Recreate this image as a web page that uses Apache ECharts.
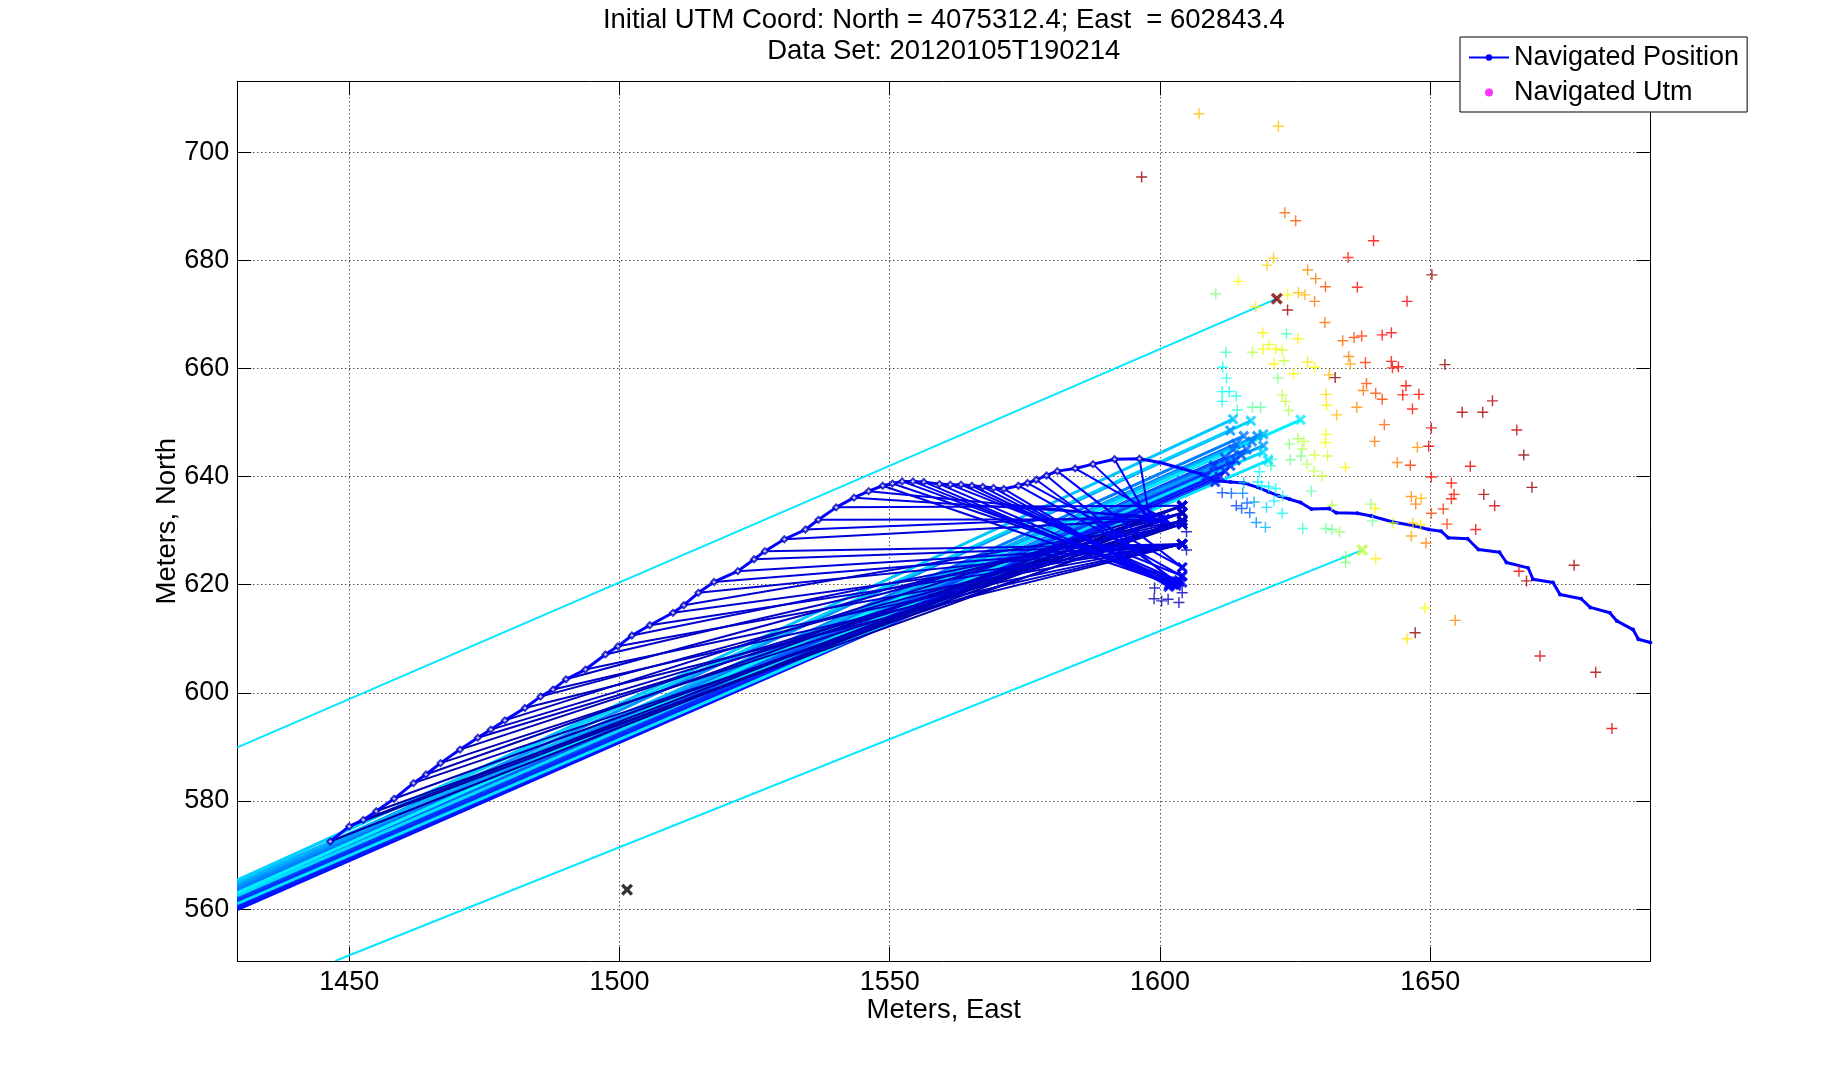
<!DOCTYPE html>
<html>
<head>
<meta charset="utf-8">
<script src="https://cdn.jsdelivr.net/npm/echarts@6/dist/echarts.min.js"></script>
<style>html,body{margin:0;padding:0;background:#fff}#c{width:1824px;height:1080px}</style>
</head>
<body>
<div id="c"></div>
<script>
// ---------------- data (meters East / North) ----------------
const titleLines = ['Initial UTM Coord: North = 4075312.4; East  = 602843.4', 'Data Set: 20120105T190214'];
const xTicks = [1450, 1500, 1550, 1600, 1650];
const yTicks = [560, 580, 600, 620, 640, 660, 680, 700];
const xRange = [1429.3, 1690.7];
const yRange = [550.4, 713.1];

// Navigated Position track [east, north]
const navTrack = [
  [1446.5,572.5],[1450,575.3],[1452.6,576.5],[1455,578.1],[1458.3,580.4],[1461.9,583.3],[1464.2,584.9],
  [1466.9,587],[1470.5,589.5],[1473.8,591.7],[1476.2,593.2],[1478.8,594.9],[1482.5,597.2],[1485.4,599.3],
  [1487.7,600.6],[1490.1,602.5],[1493.7,604.3],[1497.4,607.1],[1499.7,608.6],[1502.3,610.6],[1505.6,612.5],
  [1509.9,614.8],[1511.9,616.2],[1514.6,618.5],[1517.5,620.5],[1521.9,622.5],[1524.9,624.7],[1526.9,626.2],
  [1530.5,628.4],[1534.4,630.2],[1536.8,632],[1540.1,634.3],[1543.4,636.1],[1546.1,637.3],[1548.7,638.3],
  [1550.5,638.7],[1552.3,639.1],[1554.3,639.1],[1556.3,639],[1559.2,638.6],[1561.2,638.5],[1563.2,638.5],
  [1565.2,638.3],[1567.2,638.1],[1569.2,637.9],[1571.1,637.7],[1573.8,638.3],[1575.5,638.8],[1577.1,639.4],
  [1579,640.2],[1581,641],[1584.3,641.5],[1587.6,642.3],[1591.6,643.2],[1596.2,643.3],[1600,642.6],
  [1604,641.5],[1607.5,640.5],[1610.2,639.2],[1613,639],[1615.5,638.8],[1618.1,638],[1620,637.2],
  [1622,636.4],[1624,635.8],[1626,635.2],[1628,634],[1631.3,634.1],[1632.6,633.3],[1636.5,633.2],
  [1639.1,632.7],[1643.1,631.6],[1647,630.9],[1649.7,630.2],[1652,629.9],[1653.3,628.7],[1656.9,628.5],
  [1658.9,626.5],[1662.8,626],[1664.1,624.1],[1668.1,623.1],[1669,621],[1672.7,620.4],[1674,618.2],
  [1677.9,617.4],[1679.6,615.8],[1683.2,614.8],[1684.5,613.3],[1687.5,611.7],[1688.5,609.9],[1690.7,609.3]
];

// early fix lines: [startE, startN, endE, endN, timeFraction]
const fixLinesEarly = [
  [1446.5,572.5,1604.1,634.6,.04],[1450,575.3,1604.1,633.3,.04],[1452.6,576.5,1604.1,634.6,.04],
  [1455,578.1,1604.1,631.8,.04],[1458.3,580.4,1604.1,633.3,.05],[1461.9,583.3,1604.1,631.2,.05],
  [1464.2,584.9,1604.1,634.6,.05],[1466.9,587,1604.1,631.8,.05],[1470.5,589.5,1604.1,633.3,.05],
  [1473.8,591.7,1604.1,631.2,.06],[1476.2,593.2,1604.1,631.8,.06],[1478.8,594.9,1604.1,634.6,.06],
  [1482.5,597.2,1604.1,627.5,.06],[1485.4,599.3,1604.1,631.2,.06],[1487.7,600.6,1604.1,627.5,.07],
  [1490.1,602.5,1604.1,633.3,.07],[1493.7,604.3,1604.1,627.5,.07],[1497.4,607.1,1604.1,631.8,.07],
  [1499.7,608.6,1604.1,627.5,.07],[1502.3,610.6,1604.1,631.2,.08],[1505.6,612.5,1604.1,627.5,.08],
  [1509.9,614.8,1604.1,627.5,.08],[1511.9,616.2,1604.1,631.8,.08],[1514.6,618.5,1604.1,627.5,.08],
  [1517.5,620.5,1604.1,627.5,.09],[1521.9,622.5,1604.1,627.5,.09],[1524.9,624.7,1604.1,627.5,.09],
  [1526.9,626.2,1604.1,627.5,.09],[1530.5,628.4,1600.9,632.1,.09],[1534.4,630.2,1597.6,632.7,.10],
  [1536.8,632,1600.9,632.1,.10],[1540.1,634.3,1604.1,634.6,.10],[1543.4,636.1,1597.6,632.7,.10],
  [1546.1,637.3,1600.2,632.1,.10],[1548.7,638.3,1602.5,620.0,.10],[1550.5,638.7,1603.5,620.8,.10],
  [1552.3,639.1,1603.5,620.4,.11],[1554.3,639.1,1602.0,620.3,.11],[1556.3,639,1601.6,620.0,.11],
  [1559.2,638.6,1603.0,619.8,.11],[1561.2,638.5,1604.1,621.6,.11],[1563.2,638.5,1604.1,620.4,.11],
  [1565.2,638.3,1603.0,620.2,.11],[1567.2,638.1,1602.5,620.2,.11],[1569.2,637.9,1601.8,619.9,.12],
  [1571.1,637.7,1601.6,619.6,.12],[1573.8,638.3,1604.1,621.6,.12],[1575.5,638.8,1604.1,623.2,.12],
  [1577.1,639.4,1603.0,620.6,.12],[1579,640.2,1602.5,620.6,.12],[1581,641,1604.1,623.2,.12],
  [1584.3,641.5,1600.9,632.1,.12],[1587.6,642.3,1598.5,632.0,.12],[1591.6,643.2,1597.6,632.7,.12],
  [1596.2,643.3,1598.0,632.4,.12]
];

// later fix lines: [startE, startN, endE, endN, timeFraction]
const fixLinesLate = [
  [1429.3,559.9,1610.2,639.0,.14],[1429.3,560.3,1611.0,640.0,.15],[1429.3,560.6,1612.0,641.0,.15],
  [1429.3,560.9,1608.5,640.0,.16],[1429.3,561.2,1613.0,642.0,.17],[1429.3,561.5,1610.0,642.0,.17],
  [1429.3,561.8,1614.0,643.0,.18],[1429.3,562.0,1612.0,643.5,.19],[1429.3,562.3,1615.0,644.0,.20],
  [1429.3,562.6,1613.5,645.0,.21],[1429.3,562.9,1616.0,645.0,.22],[1429.3,563.2,1614.0,646.0,.23],
  [1429.3,563.5,1617.0,646.5,.24],[1429.3,563.8,1615.5,647.5,.25],[1429.3,564.1,1618.0,647.5,.26],
  [1429.3,564.4,1613.0,648.5,.27],[1429.3,564.6,1619.1,645.7,.28],[1429.3,564.9,1619.1,647.8,.30],
  [1429.3,565.2,1613.5,650.6,.32],[1429.3,565.4,1616.8,650.3,.33],[1429.3,562.5,1619.0,644.5,.34],
  [1429.3,561.0,1620.0,643.0,.35],[1429.3,563.0,1626.0,650.5,.36]
];

// outlier lines: [startE, startN, endE, endN, timeFraction]
const outlierLines = [[1429.3,589.9,1621.6,672.9,.35],[1447.4,550.4,1637.4,626.4,.35]];
// outlier end markers: [east, north, timeFraction]
const outlierMarks = [[1621.6,672.9,1.0],[1637.4,626.4,.56]];
const originMark = [[1501.4,563.6]];

// Navigated Utm '+' samples: [east, north, timeFraction]
const utmFixes = [
  [1607.2,707.1,.69],[1621.9,704.8,.68],[1596.6,695.4,.98],[1623.1,688.8,.77],[1625.1,687.3,.79],
  [1639.5,683.6,.88],[1634.8,680.5,.85],[1621.0,680.4,.68],[1619.8,679.1,.67],[1627.3,678.2,.74],
  [1628.8,676.6,.76],[1650.3,677.3,.97],[1614.5,676.1,.63],[1630.6,675.1,.80],[1636.5,675.0,.86],
  [1610.3,673.8,.50],[1623.6,673.6,.63],[1625.6,674.0,.69],[1626.8,673.6,.70],[1628.6,672.4,.76],
  [1645.7,672.4,.88],[1617.7,671.4,.64],[1623.6,670.8,.97],[1630.5,668.5,.77],[1619.0,666.6,.64],
  [1623.4,666.4,.45],[1625.5,665.5,.64],[1633.8,665.1,.77],[1635.9,665.7,.81],[1637.3,666.0,.82],
  [1641.1,666.2,.87],[1642.8,666.6,.88],[1612.2,663.0,.44],[1617.1,663.0,.56],[1619.1,663.6,.62],
  [1620.1,664.4,.60],[1621.4,663.6,.63],[1622.6,663.4,.58],[1621.1,660.8,.64],[1622.9,661.4,.57],
  [1627.3,661.2,.65],[1628.6,660.2,.62],[1634.9,662.2,.75],[1635.2,660.8,.71],[1638.0,661.1,.82],
  [1642.8,661.3,.87],[1643.0,660.1,.86],[1644.1,660.3,.88],[1652.7,660.7,.98],[1611.6,660.2,.38],
  [1612.3,658.2,.40],[1621.8,658.2,.50],[1624.7,659.0,.63],[1631.3,658.8,.70],[1632.4,658.3,.98],
  [1638.2,657.2,.80],[1637.6,655.9,.76],[1639.9,655.4,.80],[1641.1,654.3,.82],[1645.5,656.8,.88],
  [1644.9,655.1,.88],[1647.9,655.2,.88],[1661.5,654.0,.96],[1611.5,655.7,.39],[1612.8,655.7,.38],
  [1614.1,654.9,.40],[1611.5,653.9,.38],[1614.3,652.3,.42],[1617.1,652.8,.46],[1618.6,652.8,.47],
  [1622.6,655.1,.55],[1623.2,653.9,.57],[1623.8,652.2,.55],[1630.7,655.2,.66],[1630.8,653.2,.64],
  [1632.7,651.4,.69],[1636.4,652.8,.74],[1646.7,652.5,.86],[1655.9,651.9,.96],[1659.7,651.9,.96],
  [1666.0,648.6,.93],[1667.3,644.0,.98],[1650.2,649.0,.92],[1649.7,645.6,.91],[1641.5,649.6,.78],
  [1639.7,646.5,.76],[1647.6,645.4,.73],[1643.9,642.6,.75],[1646.3,642.1,.83],[1657.4,641.9,.90],
  [1625.5,647.0,.54],[1626.6,646.5,.57],[1623.9,646.0,.50],[1626.3,645.1,.55],[1628.6,644.0,.58],
  [1631.0,643.8,.58],[1630.7,647.8,.63],[1630.6,646.3,.63],[1626.1,643.8,.50],[1624.1,643.1,.49],
  [1627.2,642.3,.55],[1628.5,641.0,.56],[1630.0,640.1,.58],[1634.3,641.7,.64],[1620.7,643.2,.43],
  [1620.5,642.0,.43],[1618.4,640.9,.38],[1618.1,639.0,.37],[1618.8,638.3,.37],[1620.1,638.1,.37],
  [1621.4,637.8,.38],[1622.7,636.4,.40],[1628.0,637.3,.47],[1615.5,638.9,.30],[1611.5,637.0,.20],
  [1613.2,636.9,.22],[1615.3,636.9,.26],[1614.1,634.6,.20],[1615.1,634.1,.20],[1616.1,635.1,.22],
  [1617.4,635.3,.28],[1616.6,633.3,.22],[1619.7,634.3,.34],[1621.1,635.5,.36],[1622.6,633.2,.38],
  [1617.8,631.5,.26],[1619.5,630.6,.30],[1626.4,630.4,.42],[1630.7,630.4,.48],[1631.8,630.2,.48],
  [1633.2,629.8,.53],[1631.8,634.7,.55],[1639.0,634.9,.52],[1639.8,634.1,.63],[1639.3,631.8,.48],
  [1643.1,631.4,.57],[1646.8,631.4,.68],[1648.2,631.1,.64],[1646.5,636.3,.74],[1648.3,636.0,.69],
  [1647.3,634.9,.76],[1650.2,639.9,.86],[1650.2,633.2,.80],[1653.9,638.8,.86],[1654.4,636.7,.86],
  [1653.9,635.9,.86],[1659.9,636.7,.96],[1661.9,634.6,.92],[1668.8,638.0,.98],[1652.4,634.0,.82],
  [1653.1,631.2,.82],[1658.4,630.2,.88],[1646.5,629.0,.72],[1649.2,627.7,.75],[1666.4,622.5,.90],
  [1667.8,620.7,.96],[1676.6,623.6,.96],[1634.4,625.2,.48],[1634.3,624.1,.50],[1639.9,624.8,.64],
  [1649.0,615.7,.62],[1654.6,613.4,.74],[1647.2,611.1,.98],[1645.7,610.0,.65],[1670.3,606.8,.90],
  [1680.6,603.8,.96],[1683.6,593.4,.90],
  [1599.0,619.4,.05],[1598.9,617.4,.05],[1600.3,617.0,.05],[1601.5,617.3,.06],[1603.5,616.7,.06],
  [1604.1,618.5,.06],[1597.2,629.4,.08],[1604.9,626.4,.07],[1604.9,629.8,.07]
];

// ---------------- chart ----------------
const FONT = "'Liberation Sans', Arial, Helvetica, sans-serif";
const jet = ['#000080','#0000ff','#0080ff','#00ffff','#80ff80','#ffff00','#ff8000','#ff0000','#800000'];
const PLUS = 'path://M-0.13,-1L0.13,-1L0.13,-0.13L1,-0.13L1,0.13L0.13,0.13L0.13,1L-0.13,1L-0.13,0.13L-1,0.13L-1,-0.13L-0.13,-0.13Z';
const CROSS = 'path://M-1,-0.6L-0.6,-1L0,-0.4L0.6,-1L1,-0.6L0.4,0L1,0.6L0.6,1L0,0.4L-0.6,1L-1,0.6L-0.4,0Z';

function segRender(width) {
  return function (params, api) {
    const a = api.coord([api.value(0), api.value(1)]);
    const b = api.coord([api.value(2), api.value(3)]);
    return { type: 'line', shape: { x1: a[0], y1: a[1], x2: b[0], y2: b[1] },
      style: { stroke: api.visual('color'), lineWidth: width, fill: null } };
  };
}

const endMarks = fixLinesEarly.concat(fixLinesLate).map(r => [r[2], r[3], r[4]]);
const startMarks = fixLinesEarly.map(r => [r[0], r[1]]);

const axisCommon = {
  type: 'value',
  axisLine: { show: true, onZero: false, lineStyle: { color: '#000', width: 1 } },
  axisTick: { show: true, inside: true, length: 14, lineStyle: { color: '#000', width: 1 } },
  splitLine: { show: false }
};
const labelStyle = { fontFamily: FONT, fontSize: 27, color: '#000', formatter: v => String(v) };

const chart = echarts.init(document.getElementById('c'), null, { renderer: 'canvas' });
chart.setOption({
  animation: false,
  backgroundColor: '#fff',
  title: {
    text: titleLines.join('\n'),
    left: 943.8, top: 4.5, textAlign: 'center', padding: 0,
    textStyle: { fontFamily: FONT, fontSize: 27.5, fontWeight: 'normal', color: '#000', lineHeight: 31 }
  },
  legend: {
    orient: 'vertical', left: 1460, top: 37, padding: [7, 8, 6, 8], itemGap: 8,
    itemWidth: 40, itemHeight: 8, borderColor: '#000', borderWidth: 1, borderRadius: 0,
    backgroundColor: '#fff', z: 10,
    textStyle: { fontFamily: FONT, fontSize: 27, color: '#000', lineHeight: 26 },
    data: [{ name: 'Navigated Position' }, { name: 'Navigated Utm', icon: 'circle' }]
  },
  grid: { left: 237.3, right: 173.7, top: 81.3, bottom: 119, containLabel: false },
  xAxis: [
    Object.assign({}, axisCommon, {
      position: 'bottom', min: xRange[0], max: xRange[1],
      name: 'Meters, East', nameLocation: 'middle', nameGap: 35, nameMoveOverlap: false,
      nameTextStyle: { fontFamily: FONT, fontSize: 27.5, color: '#000' },
      axisTick: Object.assign({}, axisCommon.axisTick, { customValues: xTicks }),
      axisLabel: Object.assign({ customValues: xTicks, margin: 8 }, labelStyle),
      splitLine: { show: true, lineStyle: { color: '#000', width: 1, type: [1, 3] } }
    }),
    Object.assign({}, axisCommon, {
      position: 'top', min: xRange[0], max: xRange[1],
      axisTick: Object.assign({}, axisCommon.axisTick, { customValues: xTicks }),
      axisLabel: { show: false }
    })
  ],
  yAxis: [
    Object.assign({}, axisCommon, {
      position: 'left', min: yRange[0], max: yRange[1],
      name: 'Meters, North', nameLocation: 'middle', nameGap: 56, nameRotate: 90, nameMoveOverlap: false,
      nameTextStyle: { fontFamily: FONT, fontSize: 27.5, color: '#000' },
      axisTick: Object.assign({}, axisCommon.axisTick, { customValues: yTicks }),
      axisLabel: Object.assign({ customValues: yTicks, margin: 8 }, labelStyle),
      splitLine: { show: true, lineStyle: { color: '#000', width: 1, type: [1, 3] } }
    }),
    Object.assign({}, axisCommon, {
      position: 'right', min: yRange[0], max: yRange[1],
      axisTick: Object.assign({}, axisCommon.axisTick, { customValues: yTicks }),
      axisLabel: { show: false }
    })
  ],
  visualMap: [
    { type: 'continuous', show: false, min: 0, max: 1, dimension: 4, seriesIndex: [0, 1, 2], inRange: { color: jet } },
    { type: 'continuous', show: false, min: 0, max: 1, dimension: 2, seriesIndex: [5, 6, 7], inRange: { color: jet } }
  ],
  series: [
    { type: 'custom', clip: true, renderItem: segRender(3), data: fixLinesLate, encode: { x: [0, 2], y: [1, 3] }, silent: true },
    { type: 'custom', clip: true, renderItem: segRender(2), data: fixLinesEarly, encode: { x: [0, 2], y: [1, 3] }, silent: true },
    { type: 'custom', clip: true, renderItem: segRender(2), data: outlierLines, encode: { x: [0, 2], y: [1, 3] }, silent: true },
    { name: 'Navigated Position', type: 'line', data: navTrack, symbol: 'circle', symbolSize: 4, showSymbol: true,
      lineStyle: { color: '#0000ff', width: 3 }, itemStyle: { color: '#0000ff' }, z: 3 },
    { type: 'scatter', data: startMarks, symbol: 'emptyDiamond', symbolSize: 6,
      itemStyle: { color: '#0000c0', borderColor: '#0000c0', borderWidth: 1 }, z: 3 },
    { type: 'scatter', data: utmFixes, symbol: PLUS, symbolSize: 11, z: 4 },
    { type: 'scatter', data: endMarks, symbol: CROSS, symbolSize: 11, z: 4 },
    { type: 'scatter', data: outlierMarks, symbol: CROSS, symbolSize: 12, z: 5 },
    { type: 'scatter', data: originMark, symbol: CROSS, symbolSize: 12, itemStyle: { color: '#000' }, z: 5 },
    { name: 'Navigated Utm', type: 'scatter', data: [], symbol: 'circle', symbolSize: 8, itemStyle: { color: '#ff00ff' } }
  ]
});
</script>
</body>
</html>
